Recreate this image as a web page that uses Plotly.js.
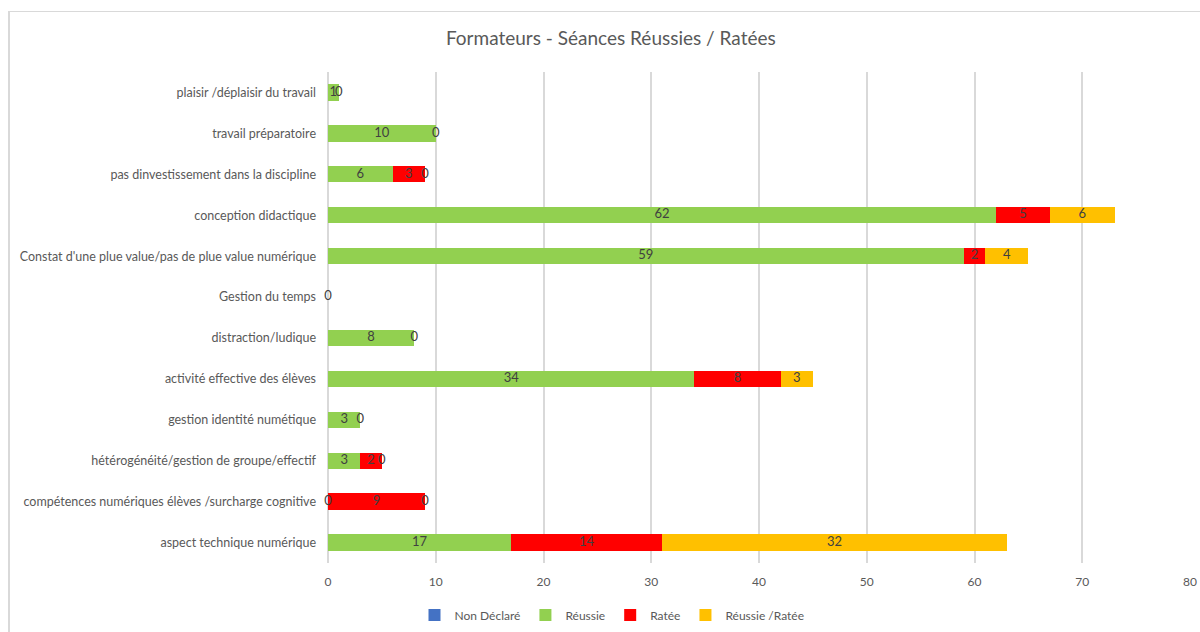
<!DOCTYPE html>
<html>
<head>
<meta charset="utf-8">
<script src="https://cdn.plot.ly/plotly-3.0.1.min.js"></script>
<style>
html,body{margin:0;padding:0;background:#fff;}
#wrap{position:relative;width:1200px;height:632px;overflow:hidden;}
#chart{position:absolute;left:0;top:0;width:1200px;height:632px;}
#frame{position:absolute;left:8px;top:11px;width:1300px;height:700px;border:1px solid #d9d9d9;border-width:1px 0 0 2px;pointer-events:none;}
</style>
</head>
<body>
<div id="wrap"><div id="chart"></div><div id="frame"></div></div>
<script>
const categories = [
  "plaisir /déplaisir du travail",
  "travail préparatoire",
  "pas dinvestissement dans la discipline",
  "conception didactique",
  "Constat d'une plue value/pas de plue value numérique",
  "Gestion du temps",
  "distraction/ludique",
  "activité effective des élèves",
  "gestion identité numétique",
  "hétérogénéité/gestion de groupe/effectif",
  "compétences numériques élèves /surcharge cognitive",
  "aspect technique numérique"
];
const nonDeclare = [null,null,null,null,null,null,null,null,null,null,null,null];
const reussie    = [1,10,6,62,59,null,8,34,3,3,0,17];
const ratee      = [null,null,3,5,2,null,null,8,null,2,9,14];
const mixte      = [0,0,0,6,4,0,0,3,0,0,0,32];
const xTicks = [0,10,20,30,40,50,60,70,80];

const series = [
  {name:"Non Déclaré", vals:nonDeclare, color:"#4472C4"},
  {name:"Réussie", vals:reussie, color:"#92D050"},
  {name:"Ratée", vals:ratee, color:"#FF0000"},
  {name:"Réussie /Ratée", vals:mixte, color:"#FFC000"}
];

const font = "Lato, 'Open Sans', sans-serif";
const traces = [];
const cum = categories.map(()=>0);
const labelTraces = [];
series.forEach(s=>{
  traces.push({
    type:"bar", orientation:"h", name:s.name,
    y:categories, x:s.vals.map(v=>v===null?0:v),
    marker:{color:s.color},
    hoverinfo:"skip"
  });
  const lx=[], ly=[], lt=[];
  s.vals.forEach((v,i)=>{
    if(v!==null){
      lx.push(cum[i]+v/2); ly.push(categories[i]); lt.push(String(v));
      cum[i]+=v;
    }
  });
  labelTraces.push({
    type:"scatter", mode:"text", x:lx, y:ly, text:lt,
    textfont:{family:font, size:13, color:"#404040"},
    showlegend:false, hoverinfo:"skip", cliponaxis:false
  });
});

const layout = {
  width:1200, height:632,
  margin:{l:328, r:10, t:72, b:69},
  paper_bgcolor:"rgba(0,0,0,0)", plot_bgcolor:"rgba(0,0,0,0)",
  barmode:"stack", bargap:0.6,
  title:{text:"Formateurs - Séances Réussies / Ratées", font:{family:font, size:19, color:"#595959"}, x:0.509, xanchor:"center", y:0.94, yanchor:"middle"},
  xaxis:{range:[0,80], autorange:false, tickvals:xTicks, ticktext:xTicks.map(String), showgrid:true, gridcolor:"#d9d9d9", gridwidth:2, zeroline:true, zerolinecolor:"#d9d9d9", zerolinewidth:2, showline:false, ticks:"", ticklabelstandoff:10, tickfont:{family:font, size:12, color:"#595959"}, fixedrange:true},
  yaxis:{type:"category", autorange:false, range:[categories.length-0.5, -0.5], showgrid:false, zeroline:false, showline:false, ticks:"", ticklabelstandoff:11, tickfont:{family:font, size:12.5, color:"#595959"}, automargin:false, fixedrange:true},
  legend:{orientation:"h", xref:"container", yref:"container", x:0.51, xanchor:"center", y:0.027, yanchor:"middle", font:{family:font, size:12, color:"#595959"}, traceorder:"normal", itemwidth:30, tracegroupgap:0},
  showlegend:true
};

Plotly.newPlot("chart", traces.concat(labelTraces), layout, {displayModeBar:false, staticPlot:true});
</script>
</body>
</html>
